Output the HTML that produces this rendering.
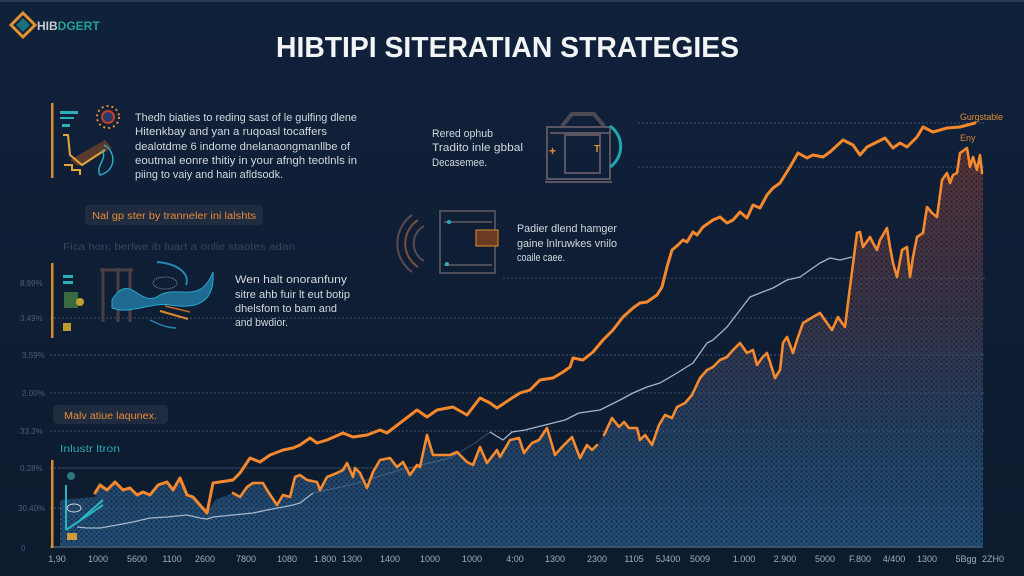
<!DOCTYPE html>
<html>
<head>
<meta charset="utf-8">
<style>
html,body{margin:0;padding:0;background:#0f1f34;}
svg{display:block;}
text{font-family:"Liberation Sans",Arial,sans-serif;}
</style>
</head>
<body>
<svg width="1024" height="576" viewBox="0 0 1024 576" xmlns="http://www.w3.org/2000/svg">
<defs>
  <linearGradient id="bg" x1="0" y1="0" x2="0" y2="1">
    <stop offset="0" stop-color="#10213b"/>
    <stop offset="1" stop-color="#0d1b2e"/>
  </linearGradient>
  <linearGradient id="fillg" gradientUnits="userSpaceOnUse" x1="0" y1="150" x2="0" y2="547">
    <stop offset="0" stop-color="#5a3438"/>
    <stop offset="0.4" stop-color="#3a3448"/>
    <stop offset="0.7" stop-color="#244062"/>
    <stop offset="1" stop-color="#21507a"/>
  </linearGradient>
  <pattern id="dots" width="5" height="5" patternUnits="userSpaceOnUse">
    <circle cx="1.5" cy="1.5" r="1.2" fill="#0b1626" fill-opacity="0.6"/>
    <circle cx="4" cy="4" r="1" fill="#0b1626" fill-opacity="0.5"/>
  </pattern>
</defs>

<rect x="0" y="0" width="1024" height="576" fill="url(#bg)"/>
<rect x="0" y="0" width="1024" height="2" fill="#2b3b52"/>

<!-- Logo -->
<g>
  <path d="M23,13 L35,25 L23,37 L11,25 Z" fill="none" stroke="#e0932f" stroke-width="3"/>
  <path d="M23,18 L30,25 L23,32 L16,25 Z" fill="#1b6f78"/>
  <text x="37" y="30" font-size="12" font-weight="bold" fill="#c9ccd0">HIB<tspan fill="#23a394">DGERT</tspan></text>
</g>

<!-- Title -->
<text x="276" y="57" font-size="29" font-weight="bold" fill="#f2f4f6" textLength="463" lengthAdjust="spacingAndGlyphs">HIBTIPI SITERATIAN STRATEGIES</text>

<!-- grid lines -->
<g stroke="#3b5272" stroke-width="1" stroke-dasharray="2 2" fill="none">
  <line x1="638" y1="123" x2="985" y2="123"/>
  <line x1="638" y1="167" x2="985" y2="167"/>
  <line x1="503" y1="278" x2="985" y2="278"/>
  <line x1="50" y1="318" x2="985" y2="318"/>
  <line x1="50" y1="355" x2="985" y2="355"/>
  <line x1="50" y1="393" x2="985" y2="393"/>
  <line x1="50" y1="431" x2="985" y2="431"/>
  <line x1="50" y1="468" x2="985" y2="468"/>
  <line x1="50" y1="508" x2="985" y2="508"/>
</g>

<!-- area fill -->
<g>
<polygon points="60,547 60,500 95,497 100,485 107,490 115,482 123,490 130,488 137,495 143,492 150,495 158,485 167,482 173,490 180,478 187,495 193,497 200,505 207,513 215,500 233,493 240,497 247,487 253,483 263,483 267,490 277,505 283,495 290,497 295,477 300,475 307,480 317,482 320,490 327,477 337,473 343,470 347,463 353,477 355,468 360,473 367,488 373,472 380,460 390,458 397,467 403,462 410,475 417,465 420,467 427,435 433,455 440,455 450,455 457,452 467,462 473,465 480,447 487,463 497,450 500,457 510,440 519,438 524,453 532,443 539,440 547,428 555,455 562,447 572,437 580,458 587,445 592,450 597,445 604,435 612,418 619,427 624,422 629,428 637,428 640,440 645,435 652,445 659,425 665,415 672,418 677,407 685,403 692,395 700,378 707,370 713,367 720,360 727,357 733,350 740,343 747,353 753,350 757,365 762,358 767,353 770,362 775,378 780,370 783,343 787,337 793,353 797,340 803,323 813,317 820,313 827,323 832,330 838,317 842,323 845,327 850,287 857,233 860,232 863,247 870,237 873,243 877,250 880,240 887,228 890,247 893,263 897,277 902,250 907,247 910,277 913,257 917,237 923,233 927,207 932,213 937,217 942,180 947,173 950,183 953,175 957,173 960,153 967,148 970,167 973,157 977,170 980,155 983,173 983,547" fill="url(#fillg)"/>
<polygon points="60,547 60,500 95,497 100,485 107,490 115,482 123,490 130,488 137,495 143,492 150,495 158,485 167,482 173,490 180,478 187,495 193,497 200,505 207,513 215,500 233,493 240,497 247,487 253,483 263,483 267,490 277,505 283,495 290,497 295,477 300,475 307,480 317,482 320,490 327,477 337,473 343,470 347,463 353,477 355,468 360,473 367,488 373,472 380,460 390,458 397,467 403,462 410,475 417,465 420,467 427,435 433,455 440,455 450,455 457,452 467,462 473,465 480,447 487,463 497,450 500,457 510,440 519,438 524,453 532,443 539,440 547,428 555,455 562,447 572,437 580,458 587,445 592,450 597,445 604,435 612,418 619,427 624,422 629,428 637,428 640,440 645,435 652,445 659,425 665,415 672,418 677,407 685,403 692,395 700,378 707,370 713,367 720,360 727,357 733,350 740,343 747,353 753,350 757,365 762,358 767,353 770,362 775,378 780,370 783,343 787,337 793,353 797,340 803,323 813,317 820,313 827,323 832,330 838,317 842,323 845,327 850,287 857,233 860,232 863,247 870,237 873,243 877,250 880,240 887,228 890,247 893,263 897,277 902,250 907,247 910,277 913,257 917,237 923,233 927,207 932,213 937,217 942,180 947,173 950,183 953,175 957,173 960,153 967,148 970,167 973,157 977,170 980,155 983,173 983,547" fill="url(#dots)"/>
</g>

<!-- grid lines over fill (faint) -->
<g stroke="#4a6488" stroke-opacity="0.5" stroke-width="1" stroke-dasharray="2 2">
  <line x1="700" y1="393" x2="983" y2="393"/>
  <line x1="430" y1="431" x2="983" y2="431"/>
  <line x1="60" y1="468" x2="983" y2="468"/>
  <line x1="60" y1="508" x2="983" y2="508"/>
  <line x1="800" y1="355" x2="983" y2="355"/>
  <line x1="860" y1="318" x2="983" y2="318"/>
  <line x1="860" y1="278" x2="983" y2="278"/>
</g>

<!-- gray line -->
<polyline fill="none" stroke="#a4b6cc" stroke-width="1.3" stroke-linejoin="round" points="77,527 87,528 100,528 117,525 133,522 150,518 167,517 187,515 200,518 207,519 213,517 233,515 253,513 267,510 283,507 293,505 300,503 313,493"/>
<polyline fill="none" stroke="#a4b6cc" stroke-opacity="0.25" stroke-width="1.3" stroke-linejoin="round" points="313,493 350,485 400,470 450,458 475,443 490,432"/>
<polyline fill="none" stroke="#a4b6cc" stroke-width="1.3" stroke-linejoin="round" points="490,432 503,440 512,432 525,430 545,425 565,420 579,413 600,410 620,400 633,393 647,387 660,383 677,373 693,363 707,343 713,340 727,327 740,310 750,297 760,293 773,288 787,280 800,277 820,263 830,258 840,260 852,257"/>

<!-- upper orange line -->
<polyline fill="none" stroke="#f5872c" stroke-width="3" stroke-linejoin="round" stroke-linecap="round" points="95,493 100,485 107,490 115,482 123,490 130,488 137,495 143,492 150,495 158,485 167,482 173,490 180,478 187,495 193,497 200,505 207,513 213,483 233,480 240,473 250,458 260,462 270,455 283,450 293,448 300,445 310,438 317,443 327,440 343,433 353,437 367,435 380,430 387,433 400,423 417,410 427,417 437,410 453,407 467,415 480,398 490,403 497,408 512,398 520,393 530,390 540,380 553,378 563,372 570,367 573,358 583,360 593,352 603,340 613,330 623,317 633,308 640,303 647,302 657,295 662,287 667,267 672,250 678,245 683,240 687,242 693,232 697,235 703,227 713,220 720,217 727,223 733,220 740,212 747,218 753,205 760,208 767,195 773,188 780,183 790,167 798,153 807,158 813,155 823,157 830,152 843,140 853,145 860,155 867,147 875,143 885,138 893,148 900,143 907,147 917,137 923,127 933,132 947,128 960,127 975,123"/>

<!-- lower orange line -->
<polyline fill="none" stroke="#f58a2e" stroke-width="2.6" stroke-linejoin="round" stroke-linecap="round" points="233,493 240,497 247,487 253,483 263,483 267,490 277,505 283,495 290,497 295,477 300,475 307,480 317,482 320,490 327,477 337,473 343,470 347,463 353,477 355,468 360,473 367,488 373,472 380,460 390,458 397,467 403,462 410,475 417,465 420,467 427,435 433,455 440,455 450,455 457,452 467,462 473,465 480,447 487,463 497,450 500,457 510,440 519,438 524,453 532,443 539,440 547,428 555,455 562,447 572,437 580,458 587,445 592,450 597,445"/>
<polyline fill="none" stroke="#f58a2e" stroke-width="2.6" stroke-linejoin="round" stroke-linecap="round" points="604,435 612,418 619,427 624,422 629,428 637,428 640,440 645,435 652,445 659,425 665,415 672,418 677,407 685,403 692,395 700,378 707,370 713,367 720,360 727,357 733,350 740,343 747,353 753,350 757,365 762,358 767,353 770,362 775,378 780,370 783,343 787,337 793,353 797,340 803,323 813,317 820,313 827,323 832,330 838,317 842,323 845,327 850,287 857,233 860,232 863,247 870,237 873,243 877,250 880,240 887,228 890,247 893,263 897,277 902,250 907,247 910,277 913,257 917,237 923,233 927,207 932,213 937,217 942,180 947,173 950,183 953,175 957,173 960,153 967,148 970,167 973,157 977,170 980,155 982,173"/>

<!-- axis -->
<line x1="50" y1="547" x2="983" y2="547" stroke="#4c5c70" stroke-width="1.5"/>
<rect x="51" y="460" width="2.5" height="88" fill="#d98a35"/>

<!-- y labels -->
<g font-size="8" fill="#4d5d74">
  <text x="20" y="286">8.99%</text>
  <text x="20" y="321">3.49%</text>
  <text x="22" y="358">3.59%</text>
  <text x="22" y="396">2.00%</text>
  <text x="20" y="434">33.3%</text>
  <text x="20" y="471">0.28%</text>
  <text x="18" y="511">30.40%</text>
  <text x="21" y="551">0</text>
</g>

<!-- x labels -->
<g font-size="9" fill="#a3adb8" text-anchor="middle">
  <text x="57" y="562">1,90</text>
  <text x="98" y="562">1000</text>
  <text x="137" y="562">5600</text>
  <text x="172" y="562">1100</text>
  <text x="205" y="562">2600</text>
  <text x="246" y="562">7800</text>
  <text x="287" y="562">1080</text>
  <text x="325" y="562">1.800</text>
  <text x="352" y="562">1300</text>
  <text x="390" y="562">1400</text>
  <text x="430" y="562">1000</text>
  <text x="472" y="562">1000</text>
  <text x="515" y="562">4:00</text>
  <text x="555" y="562">1300</text>
  <text x="597" y="562">2300</text>
  <text x="634" y="562">1105</text>
  <text x="668" y="562">5J400</text>
  <text x="700" y="562">5009</text>
  <text x="744" y="562">1.000</text>
  <text x="785" y="562">2.900</text>
  <text x="825" y="562">5000</text>
  <text x="860" y="562">F.800</text>
  <text x="894" y="562">4/400</text>
  <text x="927" y="562">1300</text>
  <text x="966" y="562">5Bgg</text>
  <text x="993" y="562">2ZH0</text>
</g>

<!-- right labels -->
<text x="960" y="120" font-size="9" fill="#e0903a" textLength="43" lengthAdjust="spacingAndGlyphs">Gurgstable</text>
<text x="960" y="141" font-size="9" fill="#d88a3a">Eny</text>

<!-- Text block 1 -->
<g font-size="11" fill="#d3d8de">
  <text x="135" y="121" textLength="222" lengthAdjust="spacingAndGlyphs">Thedh biaties to reding sast of le gulfing dlene</text>
  <text x="135" y="135" textLength="192" lengthAdjust="spacingAndGlyphs">Hitenkbay and yan a ruqoasl tocaffers</text>
  <text x="135" y="150" textLength="215" lengthAdjust="spacingAndGlyphs">dealotdme 6 indome dnelanaongmanllbe of</text>
  <text x="135" y="164" textLength="222" lengthAdjust="spacingAndGlyphs">eoutmal eonre thitiy in your afngh teotlnls in</text>
  <text x="135" y="178" textLength="148" lengthAdjust="spacingAndGlyphs">piing to vaiy and hain afldsodk.</text>
</g>

<!-- Text block 2 -->
<g font-size="11" fill="#d3d8de">
  <text x="432" y="137" textLength="61" lengthAdjust="spacingAndGlyphs">Rered ophub</text>
  <text x="432" y="151" textLength="91" lengthAdjust="spacingAndGlyphs">Tradito inle gbbal</text>
  <text x="432" y="166" textLength="55" lengthAdjust="spacingAndGlyphs">Decasemee.</text>
</g>

<!-- Text block 3 -->
<g font-size="11" fill="#d3d8de">
  <text x="517" y="232" textLength="100" lengthAdjust="spacingAndGlyphs">Padier dlend hamger</text>
  <text x="517" y="247" textLength="100" lengthAdjust="spacingAndGlyphs">gaine lnlruwkes vnilo</text>
  <text x="517" y="261" textLength="48" lengthAdjust="spacingAndGlyphs">coaile caee.</text>
</g>

<!-- Text block 4 -->
<g font-size="11" fill="#d3d8de">
  <text x="235" y="283" textLength="112" lengthAdjust="spacingAndGlyphs">Wen halt onoranfuny</text>
  <text x="235" y="298" textLength="115" lengthAdjust="spacingAndGlyphs">sitre ahb fuir lt eut botip</text>
  <text x="235" y="312" textLength="102" lengthAdjust="spacingAndGlyphs">dhelsfom to bam and</text>
  <text x="235" y="326" textLength="53" lengthAdjust="spacingAndGlyphs">and bwdior.</text>
</g>

<!-- label boxes -->
<rect x="85" y="205" width="178" height="20" rx="4" fill="#1f2c3f"/>
<text x="92" y="219" font-size="10" fill="#e88a3a" textLength="164" lengthAdjust="spacingAndGlyphs">Nal gp ster by tranneler ini lalshts</text>
<text x="63" y="250" font-size="10" fill="#34455c" textLength="232" lengthAdjust="spacingAndGlyphs">Fica hon: berlwe ib fuart a onlie staotes adan</text>

<rect x="53" y="405" width="115" height="19" rx="4" fill="#1f2c3f"/>
<text x="64" y="419" font-size="10" fill="#e88a3a" textLength="93" lengthAdjust="spacingAndGlyphs">Malv atiue laqunex.</text>
<text x="60" y="452" font-size="10" fill="#2aa6ae" textLength="60" lengthAdjust="spacingAndGlyphs">Inlustr ltron</text>

<!-- Icon 1 -->
<g>
  <rect x="51" y="103" width="2.5" height="75" fill="#d98a35"/>
  <rect x="60" y="111" width="18" height="3" fill="#2ab0b8"/>
  <rect x="60" y="117" width="14" height="2" fill="#2ab0b8"/>
  <rect x="62" y="124" width="8" height="3" fill="#2ab0b8"/>
  <circle cx="108" cy="117" r="11" fill="none" stroke="#e8902a" stroke-width="2" stroke-dasharray="2 3"/>
  <circle cx="108" cy="117" r="6" fill="#2a3a66" stroke="#c0402a" stroke-width="2"/>
  <path d="M70,160 L105,140 L112,148 L78,166 Z" fill="#5a3a2e"/>
  <path d="M63,135 L68,135 L70,155 L82,165 L105,150" fill="none" stroke="#e8a53a" stroke-width="2"/>
  <path d="M64,165 L72,165 L72,170 L80,170 L80,175" fill="none" stroke="#e8a53a" stroke-width="2"/>
  <path d="M104,145 C115,150 118,170 100,175 C95,165 108,160 102,150" fill="none" stroke="#2aa8c0" stroke-width="1.5"/>
</g>

<!-- Icon 2 building -->
<g fill="none" stroke="#5a5560" stroke-width="2">
  <path d="M562,126 L572,114 L594,114 L604,126" stroke-width="4" stroke="#4e4a55"/>
  <rect x="547" y="127" width="63" height="52"/>
  <rect x="565" y="135" width="35" height="38"/>
  <line x1="545" y1="182" x2="612" y2="182"/>
  <line x1="550" y1="133" x2="610" y2="133"/>
</g>
<text x="549" y="155" font-size="12" font-weight="bold" fill="#e8902a">+</text>
<text x="594" y="152" font-size="10" font-weight="bold" fill="#e8902a">T</text>
<path d="M610,126 A25,25 0 0 1 610,167" fill="none" stroke="#1fa6b0" stroke-width="3"/>

<!-- Icon 3 device -->
<g fill="none" stroke-width="2">
  <path d="M412,215 A35,35 0 0 0 412,272" stroke="#5a4a50"/>
  <path d="M418,220 A28,28 0 0 0 418,267" stroke="#7a5040"/>
  <path d="M424,226 A20,20 0 0 0 424,261" stroke="#5a4a50"/>
  <rect x="440" y="211" width="55" height="62" stroke="#4e4c58"/>
  <line x1="444" y1="222" x2="492" y2="222" stroke="#4e4c58"/>
  <line x1="444" y1="265" x2="492" y2="265" stroke="#4e4c58"/>
</g>
<rect x="476" y="230" width="22" height="16" fill="#6a3a22" stroke="#e0902a" stroke-width="1"/>
<circle cx="449" cy="222" r="2" fill="#2ab0c0"/>
<circle cx="447" cy="264" r="2" fill="#2ab0c0"/>

<!-- Icon 4 -->
<g>
  <rect x="51" y="263" width="2.5" height="75" fill="#d98a35"/>
  <rect x="63" y="275" width="10" height="3" fill="#2ab0b8"/>
  <rect x="63" y="281" width="10" height="3" fill="#2ab0b8"/>
  <rect x="64" y="292" width="14" height="16" fill="#3a6a40"/>
  <circle cx="80" cy="302" r="4" fill="#c0a030"/>
  <rect x="63" y="323" width="8" height="8" fill="#c09a30"/>
  <g fill="none" stroke="#4a3e44" stroke-width="3">
    <line x1="103" y1="268" x2="103" y2="322"/>
    <line x1="118" y1="268" x2="118" y2="322"/>
    <line x1="130" y1="268" x2="130" y2="322"/>
    <line x1="100" y1="270" x2="133" y2="270"/>
  </g>
  <path d="M112,300 C130,270 140,310 160,295 C180,285 200,305 213,272 C215,300 200,310 170,305 C150,302 130,315 112,308 Z" fill="#1f6a90" stroke="#2aa6d0" stroke-width="1"/>
  <path d="M157,262 C180,264 190,275 186,285" fill="none" stroke="#2a86b0" stroke-width="2"/>
  <ellipse cx="165" cy="283" rx="12" ry="6" fill="none" stroke="#8a94a8" stroke-width="1" stroke-dasharray="1 1"/>
  <line x1="160" y1="311" x2="188" y2="319" stroke="#e08a30" stroke-width="2"/>
  <line x1="165" y1="306" x2="190" y2="312" stroke="#c06a28" stroke-width="1.5"/>
  <path d="M150,320 C160,325 170,328 176,328" fill="none" stroke="#2a86b0" stroke-width="1.5"/>
</g>

<!-- Icon 5 -->
<g fill="none" stroke="#28b4c0" stroke-width="2">
  <line x1="66" y1="485" x2="66" y2="530"/>
  <line x1="66" y1="530" x2="103" y2="505"/>
  <line x1="80" y1="520" x2="103" y2="500"/>
</g>
<ellipse cx="74" cy="508" rx="7" ry="4" fill="none" stroke="#c9d3e0" stroke-width="1"/>
<rect x="67" y="533" width="10" height="7" fill="#d09a3a"/>
<circle cx="71" cy="476" r="4" fill="#2a7a80"/>
</svg>
</body>
</html>
